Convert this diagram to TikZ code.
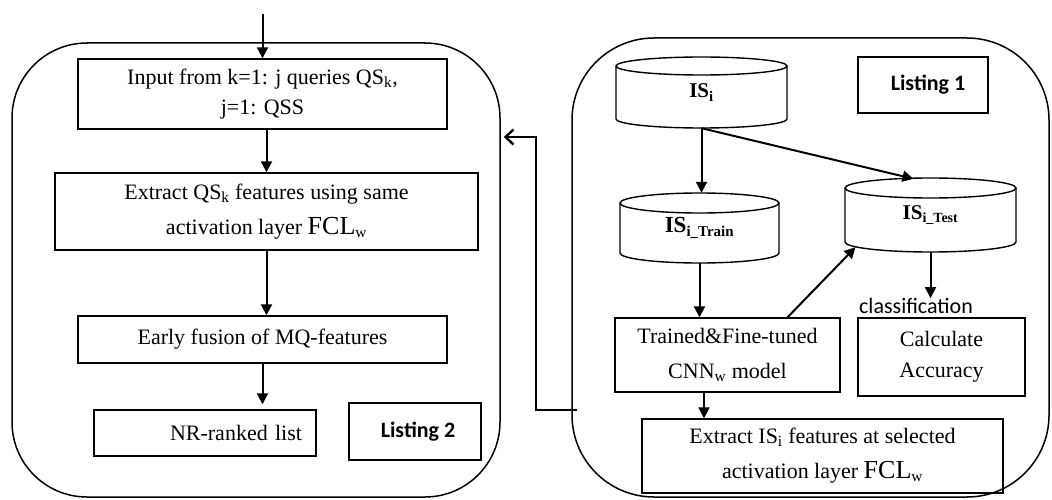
\documentclass[tikz,border=0pt]{standalone}
\usepackage{fontspec}
\setmainfont{Liberation Serif}
\newfontfamily\carl{Carlito}
\usetikzlibrary{arrows.meta,calc}
\newcommand\mycyl[5]{%
  \draw[line] (#1,-#3-#5) -- (#1,-#4+#5)
    arc[start angle=180,end angle=360,x radius={(#2-#1)/2},y radius=#5] -- (#2,-#3-#5);
  \draw[line] ({(#1+#2)/2},-#3-#5) ellipse[x radius={(#2-#1)/2}, y radius=#5];}
\begin{document}
\begin{tikzpicture}[x=1pt,y=1pt,
  line/.style={line width=1.4pt},
  box/.style={draw, line width=1.4pt, align=center, inner sep=0pt,
    font=\fontsize{22}{30}\selectfont},
  lst/.style={draw, line width=1.6pt, inner sep=0pt,
    font=\carl\bfseries\fontsize{22}{26}\selectfont},
  cyl/.style={inner sep=0pt, font=\bfseries\fontsize{21}{24}\selectfont},
  panel/.style={draw, line width=1.5pt, inner sep=0pt},
  arr/.style={line width=2pt, -{Triangle[length=11pt,width=11pt]}},
  fb/.style={line width=2.4pt, -{Straight Barb[length=8pt,width=15pt]}}]
\useasboundingbox (0,0) rectangle (1052,-500);
% panels
\node[panel, rounded corners=75pt, minimum width=488pt, minimum height=454pt] (lp) at (256,-270) {};
\node[panel, rounded corners=82pt, minimum width=477pt, minimum height=459pt] (rp) at (810.5,-267.5) {};
% left column
\coordinate (top) at (262.5,-14);
\node[box, minimum width=369pt, minimum height=70pt] (b1) at (262.5,-94)
  {Input from k=1: j queries QS\textsubscript{k},\\ j=1: QSS};
\node[box, minimum width=423pt, minimum height=77pt, font=\fontsize{22}{35}\selectfont] (b2) at (266.5,-211.5)
  {Extract QS\textsubscript{k} features using same\\ activation layer {\fontsize{26}{30}\selectfont FCL}\textsubscript{w}};
\node[box, minimum width=369pt, minimum height=47pt] (b3) at (262.5,-339.5)
  {Early fusion of MQ-features};
\node[box, minimum width=222pt, minimum height=46pt, text width=194pt, inner xsep=14pt, align=right] (b4) at (205,-433)
  {NR-ranked list};
\node[lst, minimum width=132pt, minimum height=57pt] (l2) at (415,-431.5) {\hspace*{6pt}Listing 2};
\draw[arr] (top) -- (b1.north);
\draw[arr] (b1.south -| b2.north) -- (b2.north);
\draw[arr] (b2.south) -- (b2.south |- b3.north);
\draw[arr] (b3.south) -- ([yshift=5pt]b3.south |- b4.north);
% right panel
\mycyl{616}{787}{57}{128}{9}
\mycyl{620}{779}{193}{263}{10}
\mycyl{845}{1016}{178}{252}{10}
\node[cyl, minimum width=171pt, minimum height=71pt] (isi) at (701.5,-92.5)
  {\raisebox{-7pt}{IS\textsubscript{i}}};
\node[cyl, minimum width=159pt, minimum height=70pt, font=\bfseries\fontsize{23}{24}\selectfont] (istrain) at (699.5,-228)
  {\raisebox{-10pt}{IS\textsubscript{\fontsize{15}{15}\selectfont i\_Train}}};
\node[cyl, minimum width=171pt, minimum height=74pt] (istest) at (930.5,-215)
  {\raisebox{-8pt}{IS\textsubscript{\fontsize{14}{15}\selectfont i\_Test}}};
\node[lst, minimum width=130pt, minimum height=56pt] (l1) at (923,-85) {\hspace*{10pt}Listing 1};
\node[box, minimum width=225pt, minimum height=74pt, font=\fontsize{22}{35}\selectfont] (tr) at (727.5,-355)
  {Trained\&Fine-tuned\\ CNN\textsubscript{w} model};
\node[box, minimum width=167pt, minimum height=78pt, font=\fontsize{22}{31}\selectfont] (calc) at (941.5,-357)
  {Calculate\\ Accuracy};
\node[inner sep=0pt, font=\carl\fontsize{22}{24}\selectfont] (cls) at (916,-306) {classification};
\node[box, minimum width=361pt, minimum height=74pt, font=\fontsize{22}{35}\selectfont] (ex) at (822.5,-456)
  {Extract IS\textsubscript{i} features at selected\\ activation layer {\fontsize{26}{30}\selectfont FCL}\textsubscript{w}};
\draw[arr] (isi.south) -- (isi.south |- istrain.north);
\draw[arr] (isi.south) -- ([xshift=-17pt,yshift=-1pt]istest.north);
\draw[arr] (istrain.south) -- (istrain.south |- tr.north);
\draw[arr] ([xshift=60pt]tr.north) -- ([xshift=-75pt,yshift=5pt]istest.south);
\draw[arr] (istest.south) -- (istest.south |- cls.north);
\draw[arr] ([xshift=-23.5pt]tr.south) -- ([xshift=-23.5pt]tr.south |- ex.north);
% feedback
\coordinate (fbs) at (577,-410);
\draw[fb] (fbs) -- (536,-410) -- (536,-137) -- ([xshift=3pt]lp.east |- 0,-137);
\end{tikzpicture}
\end{document}
